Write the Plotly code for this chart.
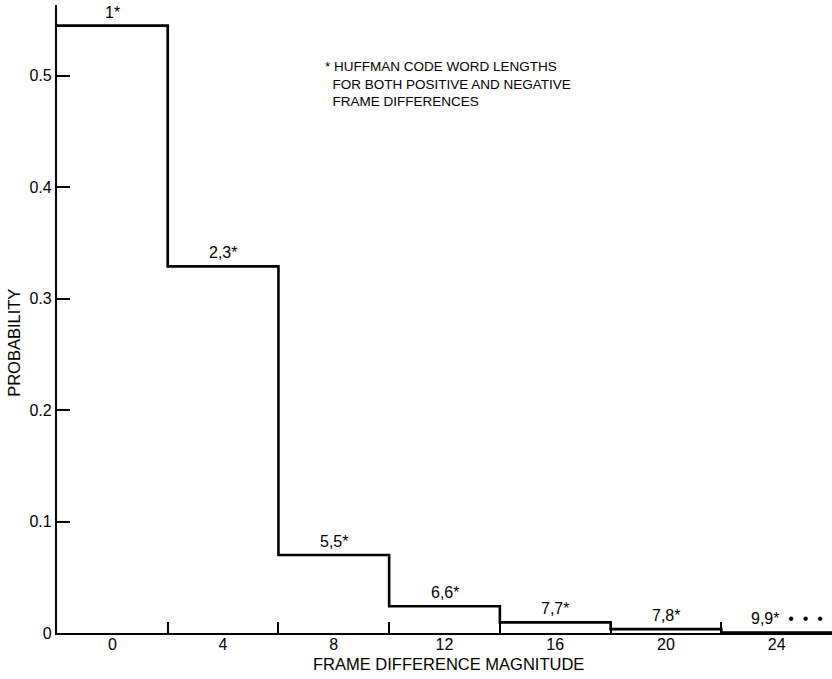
import plotly.graph_objects as go

# Data
bin_edges = [-2, 2, 6, 10, 14, 18, 22, 26]
probabilities = [0.545, 0.329, 0.070, 0.024, 0.0095, 0.0035, 0.0004]
code_labels = ["1*", "2,3*", "5,5*", "6,6*", "7,7*", "7,8*", "9,9*"]
x_tick_vals = [0, 4, 8, 12, 16, 20, 24]
x_tick_text = ["0", "4", "8", "12", "16", "20", "24"]
y_tick_vals = [0, 0.1, 0.2, 0.3, 0.4, 0.5]
y_tick_text = ["0", "0.1", "0.2", "0.3", "0.4", "0.5"]

FONT = "Liberation Sans, Arial, Helvetica, sans-serif"
NB = "\u00a0"

step_x = list(bin_edges)
step_y = list(probabilities) + [probabilities[-1]]

fig = go.Figure()
fig.add_trace(go.Scatter(
    x=step_x, y=step_y, mode="lines", line_shape="hv",
    line=dict(color="black", width=2.6), hoverinfo="skip", showlegend=False,
))

annotations = []
for i, lab in enumerate(code_labels):
    center = (bin_edges[i] + bin_edges[i + 1]) / 2
    if i == len(code_labels) - 1:
        dots = (NB * 2 + "\u2022") * 3
        annotations.append(dict(
            x=center - 1.0, y=probabilities[i], text=lab + dots,
            xanchor="left", yanchor="bottom", yshift=4, showarrow=False,
            font=dict(family=FONT, size=16, color="black"),
        ))
    else:
        annotations.append(dict(
            x=center, y=probabilities[i], text=lab,
            xanchor="center", yanchor="bottom", yshift=3, showarrow=False,
            font=dict(family=FONT, size=16, color="black"),
        ))

annotations.append(dict(
    x=0.343, y=0.917, xref="paper", yref="paper",
    text="* HUFFMAN CODE WORD LENGTHS<br>" + NB * 2 + "FOR BOTH POSITIVE AND NEGATIVE<br>"
         + NB * 2 + "FRAME DIFFERENCES",
    xanchor="left", yanchor="top", align="left", showarrow=False,
    font=dict(family=FONT, size=13.5, color="black"),
))
annotations.append(dict(
    x=0.505, y=-0.0494, xref="paper", yref="paper",
    text="FRAME DIFFERENCE MAGNITUDE", xanchor="center", yanchor="middle",
    showarrow=False, font=dict(family=FONT, size=16.5, color="black"),
))
annotations.append(dict(
    x=-0.0555, y=0.462, xref="paper", yref="paper", textangle=-90,
    text="PROBABILITY", xanchor="center", yanchor="middle",
    showarrow=False, font=dict(family=FONT, size=16.5, color="black"),
))

fig.update_layout(
    width=832, height=679,
    margin=dict(l=57, r=0, t=5, b=46),
    paper_bgcolor="white", plot_bgcolor="white",
    font=dict(family=FONT, size=16, color="black"),
    annotations=annotations,
    xaxis=dict(
        range=[-2, 26], tickmode="array", tickvals=x_tick_vals, ticktext=x_tick_text,
        ticks="inside", ticklen=0, ticklabelstandoff=-4,
        showgrid=False, zeroline=False, automargin=False,
        showline=True, linecolor="black", linewidth=2.2,
        tickfont=dict(family=FONT, size=16, color="black"),
        minor=dict(tickmode="array", tickvals=bin_edges[1:-1], ticks="inside",
                   ticklen=11, tickwidth=1.5, tickcolor="black", showgrid=False),
    ),
    yaxis=dict(
        range=[0, 0.5635], tickmode="array", tickvals=y_tick_vals, ticktext=y_tick_text,
        ticks="inside", ticklen=13, tickwidth=1.5, tickcolor="black",
        showgrid=False, zeroline=False, automargin=False,
        showline=True, linecolor="black", linewidth=2.2,
        tickfont=dict(family=FONT, size=16, color="black"),
    ),
)

fig.write_html(
    "out.html",
    config={"displayModeBar": False},
    post_script="document.body.style.margin='0';document.body.style.padding='0';"
                "document.documentElement.style.overflow='hidden';",
)
